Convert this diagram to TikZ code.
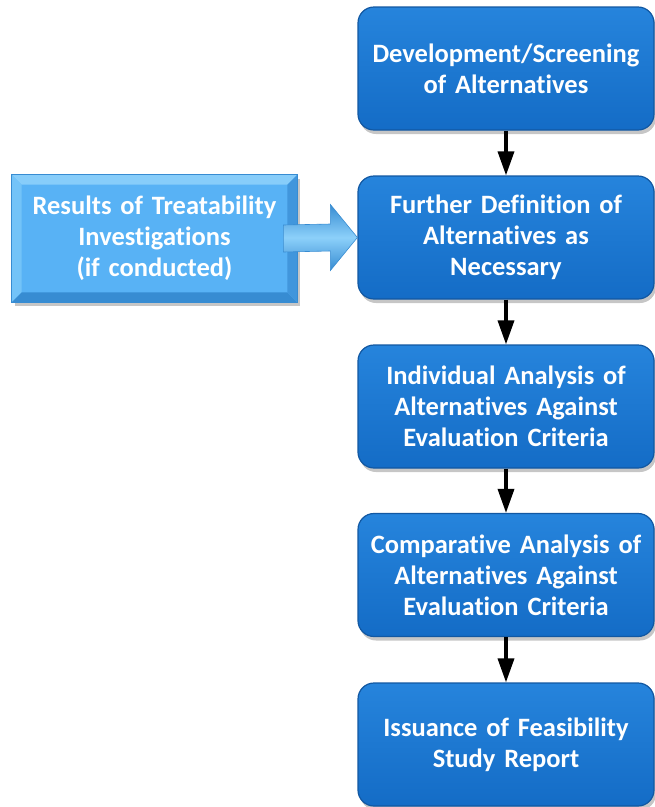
\documentclass[tikz,border=0pt]{standalone}
\usepackage{fontspec}
\setmainfont{Carlito}[Ligatures={NoCommon,NoContextual}]
\usetikzlibrary{shadows,calc,arrows.meta}
\definecolor{boxtop}{RGB}{38,132,220}
\definecolor{boxbot}{RGB}{20,108,198}
\definecolor{boxedge}{RGB}{18,88,162}
\definecolor{lightfill}{RGB}{88,178,245}
\definecolor{bevtop}{RGB}{135,205,250}
\definecolor{bevleft}{RGB}{115,195,248}
\definecolor{bevbot}{RGB}{55,140,210}
\definecolor{bevright}{RGB}{65,150,220}
\definecolor{arrmid}{RGB}{140,208,250}
\definecolor{arredge}{RGB}{55,140,210}
\begin{document}
\begin{tikzpicture}[x=1pt,y=-1pt,
  stepbox/.style={rounded corners=16pt, minimum width=296pt, minimum height=123pt,
    text width=292pt, inner sep=0pt, align=center,
    font=\bfseries\fontsize{26.5}{31}\selectfont, text=white,
    draw=boxedge, line width=1.2pt, top color=boxtop, bottom color=boxbot,
    drop shadow={shadow xshift=2pt, shadow yshift=-4pt, opacity=0.45}},
  inputbox/.style={minimum width=285pt, minimum height=127pt,
    text width=280pt, inner sep=0pt, align=center,
    fill=lightfill, draw=bevbot, line width=0.6pt,
    drop shadow={shadow xshift=3pt, shadow yshift=-4pt, opacity=0.45}},
  inputtext/.style={font=\bfseries\fontsize{26.5}{31}\selectfont, text=white, align=center, text width=280pt},
  flow/.style={-{Triangle[length=24pt,width=16pt]}, line width=3.5pt, black}]
\useasboundingbox (0,0) rectangle (655,807);

% input box with bevel
\node[inputbox] (res) at (154.5,238.5) {};
\fill[bevtop] (res.north west) -- (res.north east) -- ($(res.north east)+(-10,10)$) -- ($(res.north west)+(10,10)$) -- cycle;
\fill[bevleft] (res.north west) -- ($(res.north west)+(10,10)$) -- ($(res.south west)+(10,-10)$) -- (res.south west) -- cycle;
\fill[bevbot] (res.south west) -- (res.south east) -- ($(res.south east)+(-10,-10)$) -- ($(res.south west)+(10,-10)$) -- cycle;
\fill[bevright] (res.north east) -- ($(res.north east)+(-10,10)$) -- ($(res.south east)+(-10,-10)$) -- (res.south east) -- cycle;
\draw[bevbot, line width=0.6pt] (res.north west) rectangle (res.south east);
\node[inputtext] (restext) at (res.center)
  {Results of Treatability\\Investigations\\(if conducted)};

% main steps
\node[stepbox] (b1) at (506,68.5) {Development/Screening\\of Alternatives};
\node[stepbox] (b2) at (506,237.5) {Further Definition of\\Alternatives as\\Necessary};
\node[stepbox] (b3) at (506,406.5) {Individual Analysis of\\Alternatives Against\\Evaluation Criteria};
\node[stepbox] (b4) at (506,575) {Comparative Analysis of\\Alternatives Against\\Evaluation Criteria};
\node[stepbox] (b5) at (506,744.5) {Issuance of Feasibility\\Study Report};

% connectors
\draw[flow] (b1.south) -- (b2.north);
\draw[flow] (b2.south) -- (b3.north);
\draw[flow] (b3.south) -- (b4.north);
\draw[flow] (b4.south) -- (b5.north);

% block arrow from input to step 2
\coordinate (tail) at ($(res.east)+(-14,0)$);
\coordinate (tip) at (b2.west);
\path[draw=arredge, line width=0.6pt, top color=arredge, bottom color=arredge, middle color=arrmid]
  ($(tail)+(0,-13.5)$) -- ($(tip)+(-27,-13.5)$) -- ($(tip)+(-27,-33)$) -- (tip)
  -- ($(tip)+(-27,33)$) -- ($(tip)+(-27,13.5)$) -- ($(tail)+(0,13.5)$) -- cycle;
\end{tikzpicture}
\end{document}
